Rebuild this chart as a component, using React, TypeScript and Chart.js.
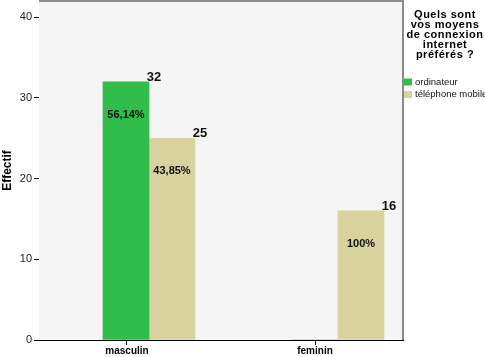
import React, { useEffect, useRef } from 'react';
import { Chart, registerables } from 'chart.js';

Chart.register(...registerables);

const categories = ['masculin', 'feminin'];
const seriesNames = ['ordinateur', 'téléphone mobile'];
const ordinateur = [32, 0];
const telephoneMobile = [25, 16];
const ordinateurPct = ['56,14%', ''];
const telephonePct = ['43,85%', '100%'];
const yTickValues = [0, 10, 20, 30, 40];
const legendTitle = ['Quels sont', 'vos moyens', 'de connexion', 'internet', 'préférés ?'];
const yTitle = 'Effectif';

const colors = ['#30bd4b', '#d7d29e'];
const FONT = '"Liberation Sans", Arial, sans-serif';

const framePlugin = {
  id: 'frame',
  beforeDatasetsDraw(chart: any) {
    const { ctx, chartArea: a } = chart;
    ctx.save();
    ctx.fillStyle = '#f5f5f5';
    ctx.fillRect(a.left, a.top, a.right - a.left, a.bottom - a.top);
    ctx.restore();
  },
  afterDraw(chart: any) {
    const { ctx, chartArea: a } = chart;
    ctx.save();
    ctx.strokeStyle = '#8a8a8a';
    ctx.lineWidth = 2;
    ctx.beginPath();
    ctx.moveTo(a.left, a.top);
    ctx.lineTo(a.right, a.top);
    ctx.lineTo(a.right, a.bottom);
    ctx.stroke();
    ctx.restore();
  },
};

const labelsPlugin = {
  id: 'barLabels',
  afterDatasetsDraw(chart: any) {
    const { ctx } = chart;
    const pcts = [ordinateurPct, telephonePct];
    ctx.save();
    chart.data.datasets.forEach((ds: any, di: number) => {
      const meta = chart.getDatasetMeta(di);
      meta.data.forEach((bar: any, i: number) => {
        const v = ds.data[i].y;
        if (!v) return;
        const p = bar.getProps(['x', 'y', 'width'], true);
        ctx.fillStyle = '#111';
        ctx.font = `bold 13px ${FONT}`;
        ctx.textAlign = 'center';
        ctx.textBaseline = 'bottom';
        ctx.fillText(String(v), p.x + p.width / 2 + 5, p.y + 2);
        const pct = pcts[di][i];
        if (pct) {
          ctx.font = `bold 11px ${FONT}`;
          ctx.textBaseline = 'middle';
          ctx.fillText(pct, p.x, p.y + 33);
        }
      });
    });
    ctx.restore();
  },
};

const legendPlugin = {
  id: 'sideLegend',
  afterDraw(chart: any) {
    const { ctx } = chart;
    ctx.save();
    ctx.fillStyle = '#000';
    ctx.font = `bold 11px ${FONT}`;
    (ctx as any).letterSpacing = '0.5px';
    ctx.textAlign = 'center';
    ctx.textBaseline = 'middle';
    legendTitle.forEach((line, i) => {
      ctx.fillText(line, 445, 15 + i * 10);
    });
    (ctx as any).letterSpacing = '0px';
    ctx.font = `9.5px ${FONT}`;
    ctx.textAlign = 'left';
    seriesNames.forEach((name, i) => {
      const y = 82 + i * 12.5;
      ctx.fillStyle = colors[i];
      ctx.fillRect(404, y - 3.5, 8, 7);
      ctx.fillStyle = '#111';
      ctx.fillText(name, 415, y);
    });
    ctx.restore();
  },
};

export default function App() {
  const ref = useRef<HTMLCanvasElement>(null);
  useEffect(() => {
    const canvas = ref.current!;
    const chart = new Chart(canvas, {
      type: 'bar',
      data: {
        labels: categories,
        datasets: [
          {
            label: seriesNames[0],
            data: categories.map((_, i) => ({ x: i, y: ordinateur[i] })),
            backgroundColor: colors[0],
            xAxisID: 'xb',
          },
          {
            label: seriesNames[1],
            data: categories.map((_, i) => ({ x: i, y: telephoneMobile[i] })),
            backgroundColor: colors[1],
            xAxisID: 'xb',
          },
        ] as any,
      },
      options: {
        animation: false,
        responsive: false,
        devicePixelRatio: 1,
        layout: { padding: { top: 1, right: 82, left: 0, bottom: 0 } },
        datasets: { bar: { barThickness: 46 } } as any,
        plugins: {
          legend: { display: false },
          tooltip: { enabled: false },
        },
        scales: {
          xb: {
            type: 'linear',
            display: false,
            offset: false,
            min: -0.582,
            max: 1.344,
            afterBuildTicks: (axis: any) => {
              axis.ticks = axis.ticks.filter((t: any) => Number.isInteger(t.value));
            },
          } as any,
          x: {
            type: 'linear',
            position: 'bottom',
            offset: false,
            min: -0.468,
            max: 1.468,
            afterBuildTicks: (axis: any) => {
              axis.ticks = categories.map((_, i) => ({ value: i }));
            },
            ticks: {
              callback: (v: any) => categories[v as number] ?? '',
              color: '#000',
              font: { family: FONT, size: 10, weight: 'bold', lineHeight: 1 },
              padding: 1,
              maxRotation: 0,
              autoSkip: false,
            },
            grid: { offset: false, drawOnChartArea: false, drawTicks: true, tickLength: 5, color: '#000' },
            border: { color: '#000', width: 1 },
          } as any,
          y: {
            type: 'linear',
            min: 0,
            max: 42,
            afterBuildTicks: (axis: any) => {
              axis.ticks = yTickValues.map((v) => ({ value: v }));
            },
            afterFit: (axis: any) => {
              axis.width = 39;
              axis.paddingTop = 0;
              axis.paddingBottom = 0;
            },
            ticks: {
              color: '#222',
              font: { family: FONT, size: 11 },
              padding: 2,
            },
            grid: { drawOnChartArea: false, drawTicks: true, tickLength: 5, color: '#000' },
            border: { color: '#000', width: 1 },
            title: {
              display: true,
              text: yTitle,
              color: '#000',
              font: { family: FONT, size: 12, weight: 'bold' },
              padding: { top: 0, bottom: 0 },
            },
          } as any,
        },
      },
      plugins: [framePlugin, labelsPlugin, legendPlugin],
    });
    return () => chart.destroy();
  }, []);
  return (
    <div style={{ position: 'absolute', left: 0, top: 0, width: 485, height: 357, background: '#fff' }}>
      <canvas ref={ref} width={485} height={357} style={{ display: 'block', width: 485, height: 357 }} />
    </div>
  );
}
